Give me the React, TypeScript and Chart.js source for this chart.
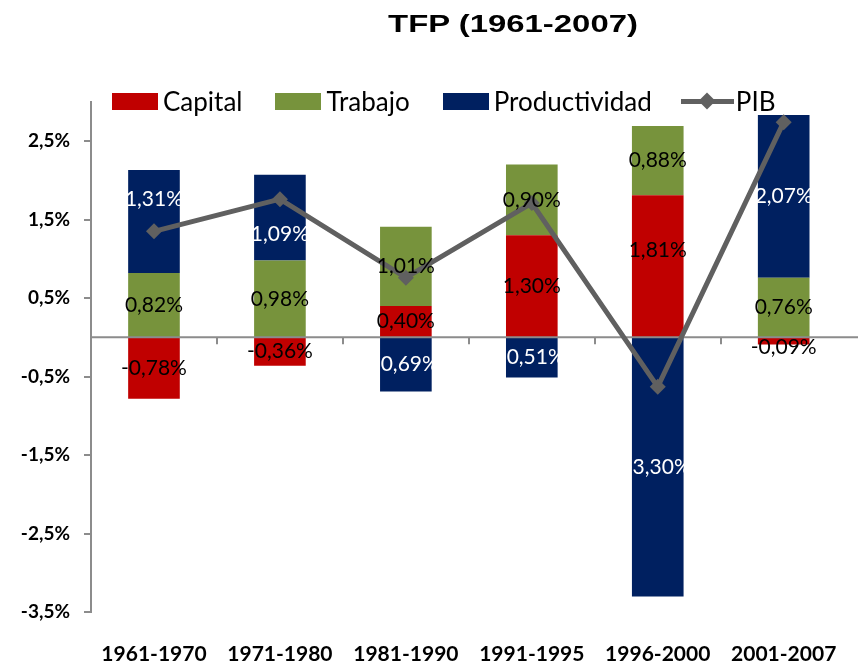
import React, { useEffect, useRef } from "react";
import { Chart, registerables } from "chart.js";

Chart.register(...registerables);

const categories = ["1961-1970", "1971-1980", "1981-1990", "1991-1995", "1996-2000", "2001-2007"];
const capital = [-0.78, -0.36, 0.4, 1.3, 1.81, -0.09];
const trabajo = [0.82, 0.98, 1.01, 0.9, 0.88, 0.76];
const productividad = [1.31, 1.09, -0.69, -0.51, -3.3, 2.07];
const pib = [1.35, 1.76, 0.76, 1.71, -0.63, 2.74];
const yTicks = [-3.5, -2.5, -1.5, -0.5, 0.5, 1.5, 2.5];
const seriesNames = ["Capital", "Trabajo", "Productividad", "PIB"];
const seriesColors = ["#C00000", "#77933C", "#002060", "#606060"];
const labelColors = ["#000000", "#000000", "#FFFFFF"];
const titleText = "TFP (1961-2007)";

// hand-placed label nudges (px), as in the source chart
const labelNudges: Record<string, number> = { "2-0": -22, "2-1": 17, "0-4": -16, "0-5": 6 };

const fmtPct = (v: number, d: number) => v.toFixed(d).replace(".", ",") + "%";
const AXIS_GRAY = "#8c8c8c";

const zeroLinePlugin = {
  id: "zeroLine",
  beforeDatasetDraw(chart: any, args: any) {
    if (args.meta.type !== "line") return;
    const { ctx, chartArea, scales } = chart;
    const y0 = scales.y.getPixelForValue(0);
    const xs = scales.x;
    ctx.save();
    ctx.strokeStyle = AXIS_GRAY;
    ctx.lineWidth = 2;
    ctx.beginPath();
    ctx.moveTo(chartArea.left, y0);
    ctx.lineTo(chart.width, y0);
    for (let i = 1; i < categories.length; i++) {
      const bx = Math.round((xs.getPixelForValue(i - 1) + xs.getPixelForValue(i)) / 2);
      ctx.moveTo(bx, y0);
      ctx.lineTo(bx, y0 + 7);
    }
    ctx.stroke();
    ctx.restore();
  },
};

const valueLabelPlugin = {
  id: "valueLabels",
  afterDatasetsDraw(chart: any) {
    const { ctx } = chart;
    ctx.save();
    ctx.font = '21px Lato, "Open Sans", sans-serif';
    ctx.textAlign = "center";
    ctx.textBaseline = "middle";
    chart.data.datasets.forEach((ds: any, di: number) => {
      if (ds.type === "line") return;
      const meta = chart.getDatasetMeta(di);
      meta.data.forEach((el: any, i: number) => {
        const { x, y, base } = el.getProps(["x", "y", "base"], true);
        ctx.fillStyle = labelColors[di];
        ctx.fillText(fmtPct(ds.data[i], 2), x, (y + base) / 2 + (labelNudges[`${di}-${i}`] || 0));
      });
    });
    ctx.restore();
  },
};

function Legend() {
  return (
    <div
      style={{
        position: "absolute",
        left: 112,
        top: 88,
        height: 26,
        display: "flex",
        alignItems: "center",
        fontFamily: 'Lato, "Open Sans", sans-serif',
        fontSize: 26,
        lineHeight: "26px",
        color: "#000",
        whiteSpace: "nowrap",
      }}
    >
      {seriesNames.map((name, i) =>
        i < 3 ? (
          <div key={name} style={{ display: "flex", alignItems: "center", marginRight: 33 }}>
            <div style={{ width: 46, height: 17, background: seriesColors[i], marginRight: 5 }} />
            <span>{name}</span>
          </div>
        ) : (
          <div key={name} style={{ display: "flex", alignItems: "center", marginLeft: -4 }}>
            <div style={{ position: "relative", width: 53, height: 17, marginRight: 2 }}>
              <div
                style={{ position: "absolute", left: 0, top: 6, width: 53, height: 5, background: seriesColors[i] }}
              />
              <div
                style={{
                  position: "absolute",
                  left: 20,
                  top: 2,
                  width: 12,
                  height: 12,
                  background: seriesColors[i],
                  transform: "rotate(45deg)",
                }}
              />
            </div>
            <span>{name}</span>
          </div>
        )
      )}
    </div>
  );
}

export default function App() {
  const canvasRef = useRef<HTMLCanvasElement | null>(null);

  useEffect(() => {
    const canvas = canvasRef.current;
    if (!canvas) return;
    const barCommon = { type: "bar" as const, stack: "bars", order: 1, barPercentage: 0.41, categoryPercentage: 1 };
    const chart = new Chart(canvas, {
      type: "bar",
      data: {
        labels: categories,
        datasets: [
          { ...barCommon, label: seriesNames[0], data: capital, backgroundColor: seriesColors[0] },
          { ...barCommon, label: seriesNames[1], data: trabajo, backgroundColor: seriesColors[1] },
          { ...barCommon, label: seriesNames[2], data: productividad, backgroundColor: seriesColors[2] },
          {
            type: "line",
            label: seriesNames[3],
            data: pib,
            stack: "pib",
            order: 0,
            borderColor: seriesColors[3],
            backgroundColor: seriesColors[3],
            borderWidth: 5,
            tension: 0,
            pointStyle: "rectRot",
            pointRadius: 8,
            pointBackgroundColor: seriesColors[3],
            pointBorderColor: seriesColors[3],
            pointBorderWidth: 0,
          } as any,
        ],
      },
      options: {
        responsive: false,
        animation: false,
        devicePixelRatio: 1,
        layout: { padding: { top: 101.75, right: 1, left: 0, bottom: 0 } },
        plugins: {
          legend: { display: false },
          title: { display: false },
          tooltip: { enabled: false },
        },
        scales: {
          x: {
            stacked: true,
            grid: { display: false, drawTicks: false },
            border: { display: false },
            ticks: {
              color: "#000",
              font: { family: 'Lato, "Open Sans", sans-serif', size: 21, weight: "bold" },
              padding: 29,
              maxRotation: 0,
              autoSkip: false,
            },
            afterFit: (s: any) => {
              s.height = 53.75;
            },
          },
          y: {
            stacked: true,
            min: -3.5,
            max: 3.0,
            afterBuildTicks: (s: any) => {
              s.ticks = yTicks.map((v) => ({ value: v }));
            },
            afterFit: (s: any) => {
              s.width = 91;
            },
            grid: {
              drawOnChartArea: false,
              drawTicks: true,
              tickLength: 7,
              color: AXIS_GRAY,
              lineWidth: 2,
            },
            border: { display: true, color: AXIS_GRAY, width: 2 },
            ticks: {
              color: "#000",
              padding: 14,
              font: { family: 'Lato, "Open Sans", sans-serif', size: 19, weight: "bold" },
              callback: (v: any) => fmtPct(Number(v), 1),
            },
          },
        },
      },
      plugins: [zeroLinePlugin, valueLabelPlugin],
    });
    return () => chart.destroy();
  }, []);

  return (
    <div
      style={{
        position: "fixed",
        left: 0,
        top: 0,
        width: 858,
        height: 666,
        overflow: "hidden",
        background: "#fff",
      }}
    >
      <canvas
        ref={canvasRef}
        width={866}
        height={666}
        style={{ position: "absolute", left: 0, top: 0, width: 866, height: 666 }}
      />
      <div
        style={{
          position: "absolute",
          left: 513,
          top: 13,
          transform: "translateX(-50%) scaleX(1.43)",
          transformOrigin: "center",
          whiteSpace: "nowrap",
          fontFamily: '"Liberation Sans", Arial, sans-serif',
          fontWeight: "bold",
          fontSize: 23,
          lineHeight: 1,
          color: "#000",
        }}
      >
        {titleText}
      </div>
      <Legend />
    </div>
  );
}
